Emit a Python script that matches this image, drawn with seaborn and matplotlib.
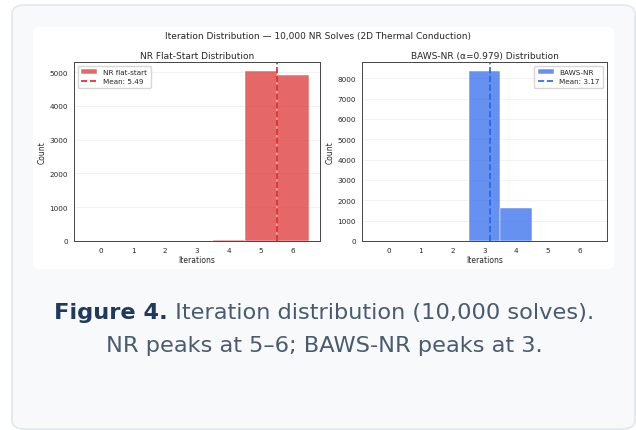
import matplotlib
matplotlib.use("Agg")
import matplotlib.pyplot as plt
from matplotlib.patches import FancyBboxPatch
import seaborn as sns
import pandas as pd

ITERATIONS = [0, 1, 2, 3, 4, 5, 6]
NR_COUNTS = [0, 0, 0, 0, 40, 5048, 4912]
BAWS_COUNTS = [0, 0, 0, 8380, 1610, 10, 0]
NR_MEAN = 5.49
BAWS_MEAN = 3.17

SUPTITLE = "Iteration Distribution \u2014 10,000 NR Solves (2D Thermal Conduction)"
NR_TITLE = "NR Flat-Start Distribution"
BAWS_TITLE = "BAWS-NR (\u03b1=0.979) Distribution"
CAPTION_BOLD = "Figure 4."
CAPTION_LINE1 = " Iteration distribution (10,000 solves)."
CAPTION_LINE2 = "NR peaks at 5\u20136; BAWS-NR peaks at 3."

RED = "#dc2626"
BLUE = "#2563eb"
W, H = 636, 431


def px_box(x0, y0, x1, y1):
    return [x0 / W, 1 - y1 / H, (x1 - x0) / W, (y1 - y0) / H]


def draw_panel(ax, counts, color, label, mean, title, legend_loc):
    df = pd.DataFrame({"Iterations": ITERATIONS, "Count": counts})
    sns.histplot(data=df, x="Iterations", weights="Count", discrete=True,
                 color=color, alpha=0.7, edgecolor="white", linewidth=0.35,
                 label=label, ax=ax)
    ax.axvline(mean, color=color, linestyle="--", linewidth=1.2,
               label=f"Mean: {mean:.2f}")
    ax.set_xticks(ITERATIONS)
    ax.set_title(title, fontsize=6.5, pad=3)
    ax.set_xlabel("Iterations", fontsize=5.5, labelpad=1)
    ax.set_ylabel("Count", fontsize=5.5, labelpad=2)
    ax.tick_params(labelsize=5.2, length=2.5, width=0.6, pad=2)
    ax.grid(axis="y", alpha=0.3, linewidth=0.6)
    ax.set_axisbelow(True)
    for s in ax.spines.values():
        s.set_visible(True)
        s.set_linewidth(0.7)
        s.set_color("#444444")
    handles, labels = ax.get_legend_handles_labels()
    order = [labels.index(label), labels.index(f"Mean: {mean:.2f}")]
    ax.legend([handles[i] for i in order], [labels[i] for i in order],
              loc=legend_loc, fontsize=5.2, frameon=True, handlelength=2.2,
              borderpad=0.5, labelspacing=0.4)


def main():
    sns.set_style("white")
    plt.rcParams["font.family"] = ["DejaVu Sans"]
    fig = plt.figure(figsize=(W / 100, H / 100), dpi=100, facecolor="white")

    card = FancyBboxPatch((12 / W, 1 - 430 / H), 623 / W, 424 / H,
                          boxstyle="round,pad=0,rounding_size=0.02",
                          transform=fig.transFigure, facecolor="#f7f9fb",
                          edgecolor="#e2e8f0", linewidth=1.2, zorder=-2)
    fig.patches.append(card)
    inner = FancyBboxPatch((33 / W, 1 - 270 / H), 581 / W, 242 / H,
                           boxstyle="round,pad=0,rounding_size=0.012",
                           transform=fig.transFigure, facecolor="white",
                           edgecolor="none", zorder=-1)
    fig.patches.append(inner)

    ax1 = fig.add_axes(px_box(74, 63, 320, 242))
    ax2 = fig.add_axes(px_box(362, 63, 607, 242))
    draw_panel(ax1, NR_COUNTS, RED, "NR flat-start", NR_MEAN, NR_TITLE, "upper left")
    draw_panel(ax2, BAWS_COUNTS, BLUE, "BAWS-NR", BAWS_MEAN, BAWS_TITLE, "upper right")

    fig.text(0.5, 1 - 37 / H, SUPTITLE, ha="center", va="center", fontsize=6.5)

    # caption, line 1 has a bold lead-in
    fs = 16.2
    cx = 324
    t_bold = fig.text(0, 1 - 313 / H, CAPTION_BOLD, fontsize=fs, fontweight="bold",
                      color="#1e3a5f", va="center", ha="left")
    t_rest = fig.text(0, 1 - 313 / H, CAPTION_LINE1, fontsize=fs, color="#4a5a70",
                      va="center", ha="left")
    fig.canvas.draw()
    r = fig.canvas.get_renderer()
    wb = t_bold.get_window_extent(r).width
    wr = t_rest.get_window_extent(r).width
    x0 = cx - (wb + wr) / 2
    t_bold.set_x(x0 / W)
    t_rest.set_x((x0 + wb) / W)
    fig.text(cx / W, 1 - 346 / H, CAPTION_LINE2, fontsize=fs, color="#4a5a70",
             va="center", ha="center")

    fig.savefig("out.png", dpi=100, facecolor="white")


if __name__ == "__main__":
    main()
